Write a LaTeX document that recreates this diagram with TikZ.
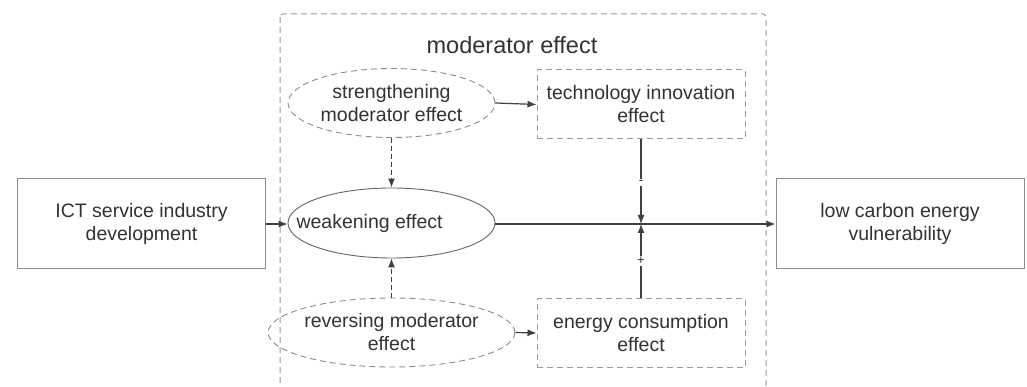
\documentclass[tikz,border=0pt]{standalone}
\usepackage{fontspec}
\setmainfont{Liberation Sans}
\usetikzlibrary{shapes.geometric,arrows.meta}
\definecolor{txt}{HTML}{333333}
\definecolor{boxc}{HTML}{8C8C8C}
\definecolor{dashc}{HTML}{9A9A9A}
\definecolor{linec}{HTML}{404040}
\tikzset{
  basefont/.style={font=\fontsize{19.5}{23}\selectfont, text=txt},
  solidbox/.style={draw=boxc, line width=1pt, minimum width=248pt, minimum height=89pt, align=center, basefont},
  dashbox/.style={draw=dashc, line width=1pt, dash pattern=on 6pt off 4pt, minimum width=208pt, minimum height=69pt, align=center, basefont},
  dashell/.style={ellipse, draw=dashc!90!black, line width=0.9pt, dash pattern=on 6pt off 4pt, minimum width=207pt, minimum height=69pt, inner sep=0pt, align=center, basefont},
  solidell/.style={ellipse, draw=linec!80, line width=0.9pt, minimum width=207pt, minimum height=70pt, inner sep=0pt},
  arr/.style={draw=linec, line width=1.2pt, -{Latex[length=9pt,width=7pt]}},
  darr/.style={arr, dash pattern=on 5pt off 3pt},
  signlbl/.style={fill=white, inner sep=1.5pt, font=\fontsize{13}{13}\selectfont, text=txt}
}
\begin{document}
\begin{tikzpicture}[x=1pt,y=-1pt]
\clip (0,0) rectangle (1027,387);
\fill[white] (0,0) rectangle (1027,387);
% outer moderator box
\draw[dashc, line width=1pt, dash pattern=on 6pt off 4pt, rounded corners=3pt] (280,14) rectangle (766,420);
\node[font=\fontsize{23.5}{26}\selectfont, text=txt] (title) at (512,45) {moderator effect};
% nodes
\node[solidbox] (ict) at (141.5,223.5) {ICT service industry\\development};
\node[solidbox] (lce) at (900,223.5) {low carbon energy\\vulnerability};
\node[dashell] (str) at (391.5,103) {strengthening\\moderator effect};
\node[dashbox] (tech) at (641,104.5) {technology innovation\\effect};
\node[solidell] (weak) at (391.5,223) {};
\node[basefont, anchor=west] (weaktxt) at (293,223) {weakening effect};
\node[dashell] (rev) at (391.5,332.5) {reversing moderator\\effect};
\node[dashbox] (ener) at (641,333) {energy consumption\\effect};
\coordinate (meet) at (641,224);
% connectors
\draw[arr] (ict.east |- 0,224) -- (weak.west |- 0,224);
\draw[arr] (weak.east |- 0,224) -- (lce.west |- 0,224);
\draw[arr] (str.east) -- (tech.west);
\draw[arr] (rev.east) -- (ener.west);
\draw[darr] (str.south) -- (weak.north);
\draw[darr] (rev.north) -- (weak.south);
\draw[arr] (tech.south) -- (meet) node[pos=0.51, signlbl] (minus) {-};
\draw[arr] (ener.north) -- (meet) node[pos=0.5, signlbl] (plus) {+};
\end{tikzpicture}
\end{document}
